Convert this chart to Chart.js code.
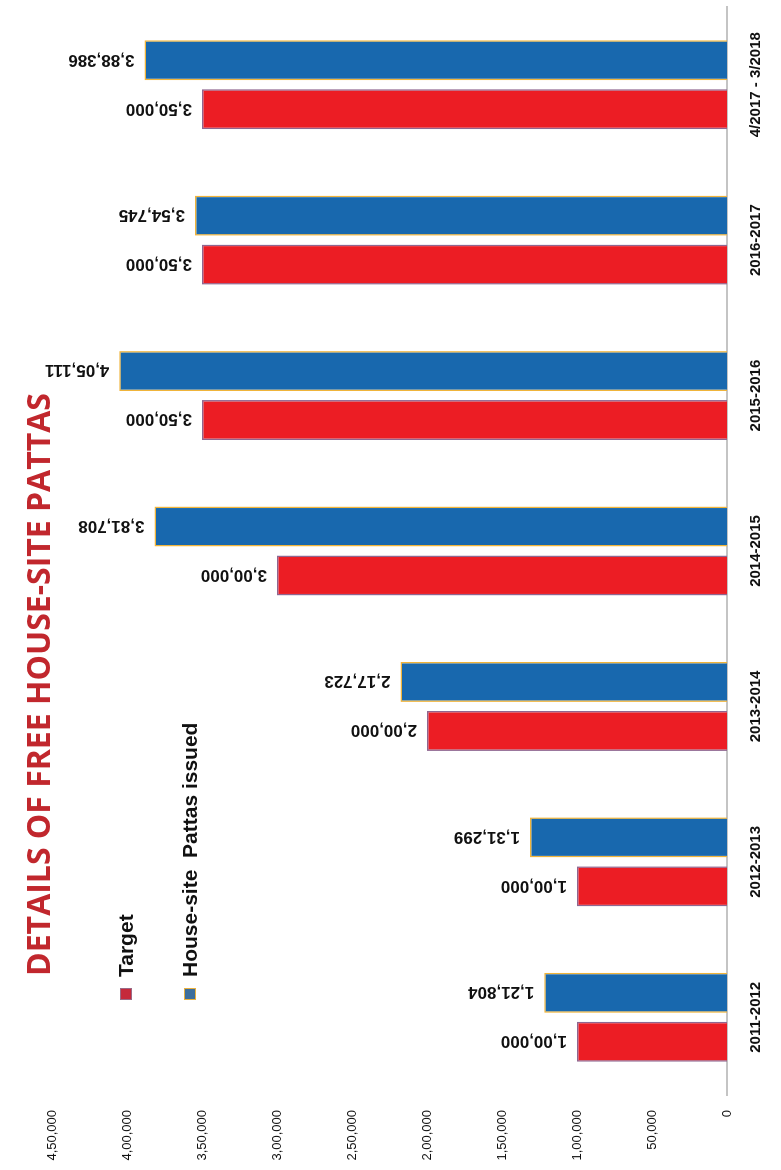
<!DOCTYPE html>
<html>
<head>
<meta charset="utf-8">
<script src="https://cdn.jsdelivr.net/npm/chart.js@4/dist/chart.umd.min.js"></script>
<style>
  html, body { margin: 0; padding: 0; background: #fff; overflow: hidden; }
  body { width: 781px; height: 1170px; position: relative; }
  /* the chart is drawn landscape and turned a quarter turn to the left */
  #sheet {
    position: absolute; left: 0; top: 0;
    width: 1170px; height: 781px;
    transform-origin: 0 0;
    transform: translate(0, 1170px) rotate(-90deg);
  }
  #chart { position: absolute; left: 0; top: 0; }
  .title {
    position: absolute; left: 194px; top: 23px;
    font-family: 'Open Sans', sans-serif; font-weight: 700; font-size: 32px;
    line-height: 30px; color: #c1272d; white-space: nowrap;
  }
  .lg-text {
    position: absolute; left: 193px;
    font-family: 'Liberation Sans', Arial, sans-serif; font-weight: 700; font-size: 21px;
    line-height: 21px; color: #111; white-space: nowrap;
  }
  .lg-box { position: absolute; left: 170px; width: 10px; height: 10px; border: 1.5px solid; }
</style>
</head>
<body>
<div id="sheet">
  <canvas id="chart" width="1170" height="781"></canvas>
  <div class="title">DETAILS OF FREE HOUSE-SITE PATTAS</div>
  <div class="lg-box" style="top:120px;background:#c52a3c;border-color:#9a6a86;"></div>
  <div class="lg-text" style="top:115px;">Target</div>
  <div class="lg-box" style="top:184px;background:#3d6e9c;border-color:#e8b040;"></div>
  <div class="lg-text" style="top:179px;">House-site&nbsp; Pattas issued</div>
</div>
<script>
const YEARS   = ['2011-2012', '2012-2013', '2013-2014', '2014-2015', '2015-2016', '2016-2017', '4/2017 - 3/2018'];
const TARGET  = [100000, 100000, 200000, 300000, 350000, 350000, 350000];
const ISSUED  = [121804, 131299, 217723, 381708, 405111, 354745, 388386];
const Y_MAX   = 450000;
const Y_STEP  = 50000;

const COLORS = {
  red:      '#ec1d24',
  redEdge:  '#8f6690',
  blue:     '#1868ae',
  blueEdge: '#f0b43a',
  axis:     '#c4c4c4',
  text:     '#111111',
};

// Indian digit grouping: 450000 -> 4,50,000
function inr(n) {
  const s = String(Math.round(n));
  if (s.length <= 3) return s;
  let head = s.slice(0, -3), tail = s.slice(-3);
  const parts = [];
  while (head.length > 2) { parts.unshift(head.slice(-2)); head = head.slice(0, -2); }
  if (head) parts.unshift(head);
  return parts.join(',') + ',' + tail;
}

// value labels standing on top of the bars, turned to read upward
const barLabels = {
  id: 'barLabels',
  afterDatasetsDraw(chart) {
    const ctx = chart.ctx;
    ctx.save();
    ctx.font = "bold 17px 'Liberation Sans', Arial, sans-serif";
    ctx.fillStyle = COLORS.text;
    ctx.textAlign = 'left';
    ctx.textBaseline = 'middle';
    chart.data.datasets.forEach((ds, di) => {
      chart.getDatasetMeta(di).data.forEach((bar, i) => {
        ctx.save();
        ctx.translate(bar.x, bar.y - 10);
        ctx.rotate(-Math.PI / 2);
        ctx.fillText(inr(ds.data[i]), 0, 1);
        ctx.restore();
      });
    });
    ctx.restore();
  }
};

new Chart(document.getElementById('chart'), {
  type: 'bar',
  data: {
    labels: YEARS,
    datasets: [
      {
        label: 'Target',
        data: TARGET,
        backgroundColor: COLORS.red,
        borderColor: COLORS.redEdge,
        borderWidth: 1.5,
        borderSkipped: 'bottom',
      },
      {
        label: 'House-site  Pattas issued',
        data: ISSUED,
        backgroundColor: COLORS.blue,
        borderColor: COLORS.blueEdge,
        borderWidth: 1.5,
        borderSkipped: 'bottom',
      },
    ],
  },
  options: {
    responsive: false,
    animation: false,
    events: [],
    categoryPercentage: 0.63,
    barPercentage: 0.816,
    layout: { padding: { top: 52, right: 7, left: 0, bottom: 0 } },
    plugins: { legend: { display: false }, title: { display: false }, tooltip: { enabled: false } },
    scales: {
      x: {
        grid: { display: false, drawTicks: false },
        border: { display: true, color: COLORS.axis, width: 2 },
        ticks: {
          color: COLORS.text, padding: 20, maxRotation: 0, autoSkip: false,
          font: { family: "'Liberation Sans', Arial, sans-serif", size: 15, weight: 'bold' },
        },
        afterFit: s => { s.height = 54; },
      },
      y: {
        min: 0, max: Y_MAX,
        grid: { display: false, drawTicks: false },
        border: { display: false },
        ticks: {
          stepSize: Y_STEP, color: COLORS.text, padding: 15,
          font: { family: "'Liberation Sans', Arial, sans-serif", size: 13 },
          callback: v => inr(v),
        },
        afterFit: s => { s.width = 75; },
      },
    },
  },
  plugins: [barLabels],
});
</script>
</body>
</html>
